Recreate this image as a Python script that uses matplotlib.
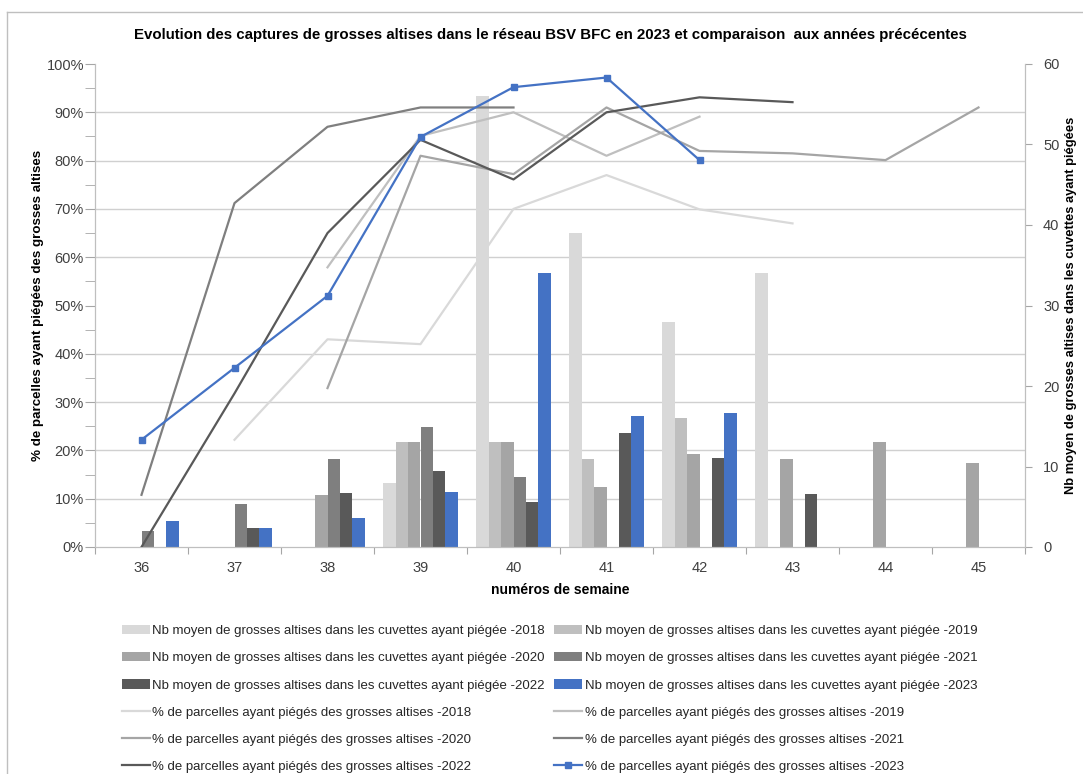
import numpy as np
import matplotlib
matplotlib.use("Agg")
import matplotlib.pyplot as plt
from matplotlib.lines import Line2D

weeks = ["36", "37", "38", "39", "40", "41", "42", "43", "44", "45"]
years = ["2018", "2019", "2020", "2021", "2022", "2023"]

# Nb moyen de grosses altises dans les cuvettes ayant piégé (axe droit)
nb_2018 = [np.nan, np.nan, np.nan, 8.0, 56.0, 39.0, 28.0, 34.0, np.nan, np.nan]
nb_2019 = [np.nan, np.nan, np.nan, 13.0, 13.0, 10.9, 16.0, np.nan, np.nan, np.nan]
nb_2020 = [np.nan, np.nan, 6.5, 13.0, 13.0, 7.4, 11.6, 10.9, 13.1, 10.4]
nb_2021 = [2.0, 5.3, 10.9, 14.9, 8.7, np.nan, np.nan, np.nan, np.nan, np.nan]
nb_2022 = [np.nan, 2.4, 6.7, 9.5, 5.6, 14.1, 11.1, 6.6, np.nan, np.nan]
nb_2023 = [3.2, 2.4, 3.6, 6.8, 34.0, 16.3, 16.6, np.nan, np.nan, np.nan]

# % de parcelles ayant piégé (axe gauche)
pct_2018 = [np.nan, 0.222, 0.430, 0.420, 0.700, 0.770, 0.699, 0.670, np.nan, np.nan]
pct_2019 = [np.nan, np.nan, 0.579, 0.851, 0.900, 0.810, 0.891, np.nan, np.nan, np.nan]
pct_2020 = [np.nan, np.nan, 0.329, 0.810, 0.772, 0.910, 0.820, 0.815, 0.801, 0.910]
pct_2021 = [0.108, 0.712, 0.870, 0.910, 0.910, np.nan, np.nan, np.nan, np.nan, np.nan]
pct_2022 = [0.0, 0.318, 0.650, 0.843, 0.761, 0.900, 0.931, 0.921, np.nan, np.nan]
pct_2023 = [0.222, 0.371, 0.520, 0.849, 0.952, 0.972, 0.801, np.nan, np.nan, np.nan]

nb_series = [nb_2018, nb_2019, nb_2020, nb_2021, nb_2022, nb_2023]
pct_series = [pct_2018, pct_2019, pct_2020, pct_2021, pct_2022, pct_2023]
colors = ["#d9d9d9", "#bfbfbf", "#a5a5a5", "#7f7f7f", "#595959", "#4472c4"]

plt.rcParams["font.family"] = ["Liberation Sans", "DejaVu Sans"]

W, H = 1083, 774
fig = plt.figure(figsize=(W / 100, H / 100), dpi=100)
ax = fig.add_axes([95 / W, 1 - 547 / H, 930 / W, 483 / H])
ax2 = ax.twinx()

x = np.arange(len(weeks))
bw = 1 / 7.5
bar_handles = []
for k, (vals, c, yr) in enumerate(zip(nb_series, colors, years)):
    b = ax.bar(x + (k - 2.5) * bw, vals, width=bw, color=c, zorder=2,
               label="Nb moyen de grosses altises dans les cuvettes ayant piégée -" + yr)
    bar_handles.append(b)

line_handles = []
for k, (vals, c, yr) in enumerate(zip(pct_series, colors, years)):
    if yr == "2023":
        l, = ax2.plot(x, vals, color=c, lw=1.6, marker="s", ms=5, zorder=3,
                      label="% de parcelles ayant piégés des grosses altises -" + yr)
    else:
        l, = ax2.plot(x, vals, color=c, lw=1.6, zorder=3,
                      label="% de parcelles ayant piégés des grosses altises -" + yr)
    line_handles.append(l)

ax.set_xlim(-0.5, len(weeks) - 0.5)
ax.set_ylim(0, 60)
ax2.set_ylim(0, 1)

# right axis (bars)
ax.yaxis.tick_right()
ax.yaxis.set_label_position("right")
ax.set_yticks(np.arange(0, 61, 10))
ax.set_yticks(np.arange(0, 61, 6), minor=True)
ax.grid(which="minor", axis="y", color="#d0d0d0", lw=1, zorder=0)
ax.tick_params(axis="y", which="minor", length=0)
ax.tick_params(axis="y", which="major", length=5, color="#a6a6a6",
               labelsize=10.5, labelcolor="#404040", pad=8)
ax.set_ylabel("Nb moyen de grosses altises dans les cuvettes ayant piégées",
              fontweight="bold", fontsize=9.3, labelpad=4)

# left axis (lines)
ax2.yaxis.tick_left()
ax2.yaxis.set_label_position("left")
ax2.set_yticks(np.arange(0, 1.01, 0.1))
ax2.set_yticks(np.arange(0.05, 1.0, 0.1), minor=True)
ax2.set_yticklabels([f"{int(round(v * 100))}%" for v in np.arange(0, 1.01, 0.1)])
ax2.tick_params(axis="y", which="both", length=7, color="#a6a6a6",
                labelsize=10.5, labelcolor="#404040", pad=1)
ax2.set_ylabel("% de parcelles ayant piégées des grosses altises",
               fontweight="bold", fontsize=9.6, labelpad=2)

# x axis
ax.set_xticks(np.arange(-0.5, len(weeks), 1))
ax.set_xticklabels([])
ax.set_xticks(x, minor=True)
ax.set_xticklabels(weeks, minor=True)
ax.tick_params(axis="x", which="major", length=5, color="#a6a6a6")
ax.tick_params(axis="x", which="minor", length=0, labelsize=10.5,
               labelcolor="#404040", pad=10)
ax.set_xlabel("numéros de semaine", fontweight="bold", fontsize=10, labelpad=6)

for a in (ax, ax2):
    a.spines["top"].set_visible(False)
    for s in ("left", "right", "bottom"):
        a.spines[s].set_color("#bfbfbf")

fig.text(550 / W, 1 - 35 / H,
         "Evolution des captures de grosses altises dans le réseau BSV BFC en 2023 et comparaison  aux années précécentes",
         ha="center", va="center", fontsize=10.8, fontweight="bold")

handles = [bar_handles[0], bar_handles[2], bar_handles[4],
           line_handles[0], line_handles[2], line_handles[4],
           bar_handles[1], bar_handles[3], bar_handles[5],
           line_handles[1], line_handles[3], line_handles[5]]
fig.legend(handles=handles, labels=[h.get_label() for h in handles], ncol=2,
           loc="upper left", bbox_to_anchor=(122 / W, 1 - 625 / H),
           frameon=False, fontsize=9.5, labelspacing=1.13, handlelength=2.1,
           handletextpad=0.2, columnspacing=0.7, borderaxespad=0, borderpad=0,
           labelcolor="#262626")

# chart border
fig.add_artist(Line2D([7 / W, 7 / W], [0, 1 - 12 / H], color="#bfbfbf", lw=1))
fig.add_artist(Line2D([7 / W, 1], [1 - 12 / H, 1 - 12 / H], color="#bfbfbf", lw=1))

fig.savefig("out.png", dpi=100)
